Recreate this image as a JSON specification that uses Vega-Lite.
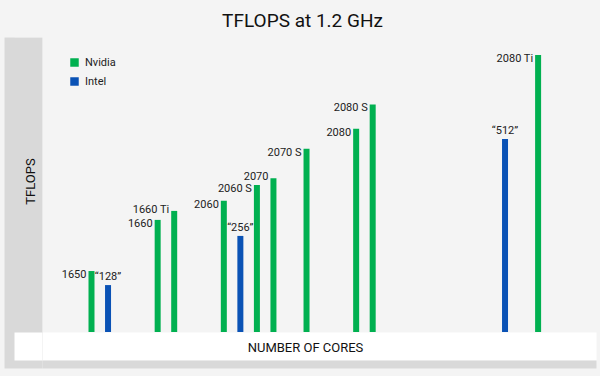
{
  "$schema": "https://vega.github.io/schema/vega-lite/v6.json",
  "autosize": {"type": "none"},
  "padding": {"left": 42, "top": 37, "right": 4, "bottom": 44},
  "width": 554,
  "height": 295,
  "background": "#f4f4f4",
  "config": {
    "font": "Roboto",
    "view": {"stroke": null},
    "axis": {"labels": false, "domain": false}
  },
  "data": {
    "values": [
      {"gpu": "1650", "vendor": "Nvidia", "cores": 896, "tflops": 2.17},
      {"gpu": "“128”", "vendor": "Intel", "cores": 1024, "tflops": 1.67},
      {"gpu": "1660", "vendor": "Nvidia", "cores": 1408, "tflops": 3.99},
      {"gpu": "1660 Ti", "vendor": "Nvidia", "cores": 1536, "tflops": 4.31},
      {"gpu": "2060", "vendor": "Nvidia", "cores": 1920, "tflops": 4.67},
      {"gpu": "“256”", "vendor": "Intel", "cores": 2048, "tflops": 3.42},
      {"gpu": "2060 S", "vendor": "Nvidia", "cores": 2176, "tflops": 5.23},
      {"gpu": "2070", "vendor": "Nvidia", "cores": 2304, "tflops": 5.47},
      {"gpu": "2070 S", "vendor": "Nvidia", "cores": 2560, "tflops": 6.52},
      {"gpu": "2080", "vendor": "Nvidia", "cores": 2944, "tflops": 7.23},
      {"gpu": "2080 S", "vendor": "Nvidia", "cores": 3072, "tflops": 8.10},
      {"gpu": "“512”", "vendor": "Intel", "cores": 4096, "tflops": 6.87},
      {"gpu": "2080 Ti", "vendor": "Nvidia", "cores": 4352, "tflops": 9.86}
    ]
  },
  "resolve": {"axis": {"x": "independent", "y": "independent"}},
  "layer": [
    {
      "mark": {"type": "bar", "width": 6},
      "encoding": {
        "x": {
          "field": "cores", "type": "quantitative",
          "scale": {"domain": [513, 4800], "nice": false, "zero": false, "padding": 0},
          "axis": {
            "orient": "bottom", "offset": 36, "grid": false, "values": [513],
            "ticks": true, "tickOffset": -19, "tickWidth": 38, "tickSize": -331,
            "tickColor": "#d9d9d9", "title": null
          }
        },
        "y": {
          "field": "tflops", "type": "quantitative",
          "scale": {"domain": [0, 10.5], "nice": false},
          "axis": {
            "orient": "left", "grid": true, "values": [0], "tickOffset": 14,
            "gridWidth": 28, "gridColor": "#ffffff", "gridOpacity": 1, "ticks": false,
            "title": "TFLOPS", "titleX": -12, "titleY": 144, "titleAngle": 270,
            "titleBaseline": "middle", "titleAlign": "center",
            "titleFont": "Roboto", "titleFontSize": 13, "titleFontWeight": "normal", "titleColor": "#111111"
          }
        },
        "color": {
          "field": "vendor", "type": "nominal",
          "scale": {"domain": ["Nvidia", "Intel"], "range": ["#00b050", "#0a52b5"]},
          "legend": {
            "orient": "none", "legendX": 27, "legendY": 20, "title": null,
            "symbolType": "square", "symbolSize": 72, "symbolStrokeWidth": 0,
            "labelFont": "Roboto", "labelFontSize": 11, "labelColor": "#222222",
            "labelOffset": 5, "rowPadding": 7, "padding": 0
          }
        }
      }
    },
    {
      "transform": [{"filter": "datum.vendor === 'Nvidia' && datum.gpu !== '1660 Ti' && datum.gpu !== '2070'"}],
      "mark": {"type": "text", "align": "right", "baseline": "middle", "dx": -5, "dy": 4, "fontSize": 11, "font": "Roboto", "color": "#222222"},
      "encoding": {
        "x": {
          "field": "cores", "type": "quantitative",
          "axis": {
            "orient": "bottom", "grid": true, "values": [513], "tickOffset": -14,
            "gridWidth": 28, "gridColor": "#ffffff", "gridOpacity": 1,
            "ticks": true, "tickSize": 28, "tickWidth": 28, "tickColor": "#ffffff",
            "title": "NUMBER OF CORES", "titleX": 263, "titleY": 15,
            "titleBaseline": "middle", "titleAlign": "center",
            "titleFont": "Roboto", "titleFontSize": 13, "titleFontWeight": "normal", "titleColor": "#111111"
          }
        },
        "y": {
          "field": "tflops", "type": "quantitative",
          "axis": {
            "orient": "left", "grid": true, "values": [0], "tickOffset": 32,
            "gridWidth": 8, "gridColor": "#d9d9d9", "gridOpacity": 1, "ticks": false, "title": null
          }
        },
        "text": {"field": "gpu"}
      }
    },
    {
      "transform": [{"filter": "datum.gpu === '1660 Ti' || datum.gpu === '2070'"}],
      "mark": {"type": "text", "align": "right", "baseline": "middle", "dx": -5, "dy": -1, "fontSize": 11, "font": "Roboto", "color": "#222222"},
      "encoding": {
        "x": {"field": "cores", "type": "quantitative", "axis": null},
        "y": {"field": "tflops", "type": "quantitative", "axis": null},
        "text": {"field": "gpu"}
      }
    },
    {
      "transform": [{"filter": "datum.vendor === 'Intel'"}],
      "mark": {"type": "text", "align": "center", "baseline": "middle", "dy": -8, "fontSize": 11, "font": "Roboto", "color": "#222222"},
      "encoding": {
        "x": {
          "field": "cores", "type": "quantitative",
          "axis": {
            "orient": "top", "grid": false, "ticks": false, "values": [],
            "title": "TFLOPS at 1.2 GHz", "titleX": 260, "titleY": -11,
            "titleBaseline": "alphabetic", "titleAlign": "center", "titleAnchor": null,
            "titleFont": "Roboto", "titleFontSize": 19, "titleFontWeight": "normal", "titleColor": "#111111"
          }
        },
        "y": {"field": "tflops", "type": "quantitative", "axis": null},
        "text": {"field": "gpu"}
      }
    }
  ]
}
